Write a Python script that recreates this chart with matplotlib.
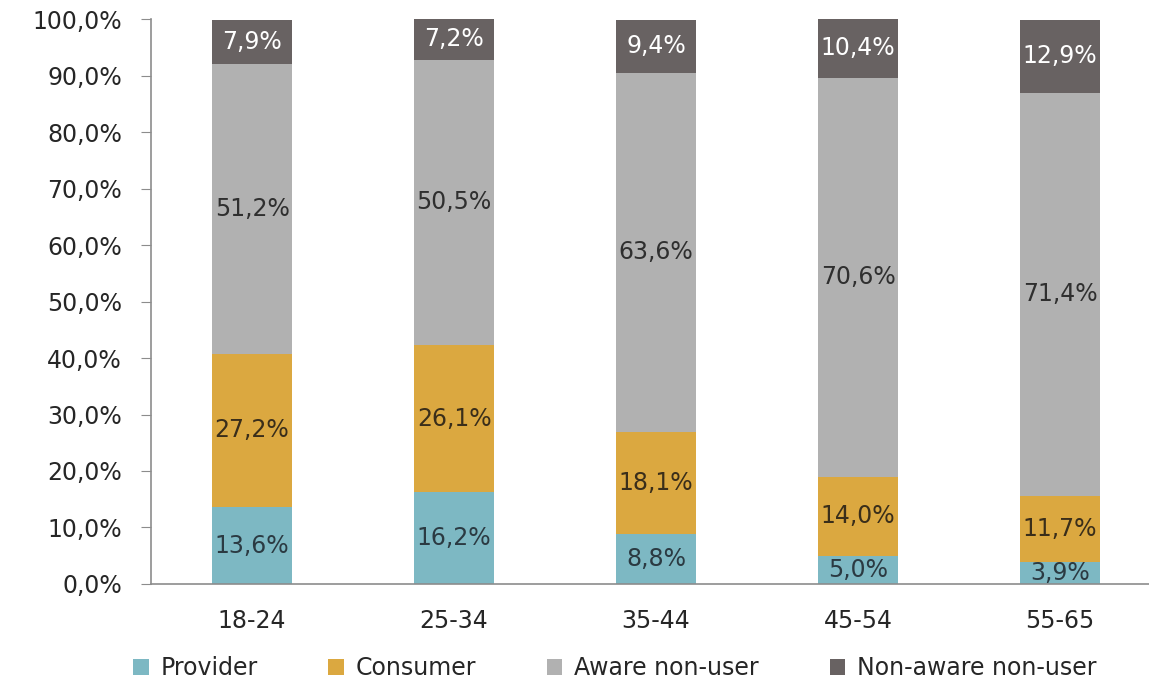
import matplotlib
matplotlib.use("Agg")
import matplotlib.pyplot as plt
import numpy as np

categories = ["18-24", "25-34", "35-44", "45-54", "55-65"]
provider = [13.6, 16.2, 8.8, 5.0, 3.9]
consumer = [27.2, 26.1, 18.1, 14.0, 11.7]
aware = [51.2, 50.5, 63.6, 70.6, 71.4]
nonaware = [7.9, 7.2, 9.4, 10.4, 12.9]
series_names = ["Provider", "Consumer", "Aware non-user", "Non-aware non-user"]
yticks = [0, 10, 20, 30, 40, 50, 60, 70, 80, 90, 100]

colors = ["#7DB8C3", "#DBA840", "#B1B1B1", "#686262"]
label_colors = ["#2b3a42", "#3a2e1a", "#2f2f2f", "#ffffff"]

def fmt(v):
    return f"{v:.1f}".replace(".", ",") + "%"

plt.rcParams['font.family'] = ['DejaVu Sans']
fig = plt.figure(figsize=(11.49, 6.83), dpi=100)
ax = fig.add_axes([0.1315, 0.145, 0.879, 0.827])

x = np.arange(len(categories))
bottom = np.zeros(len(categories))
handles = []
for vals, name, c, lc in zip([provider, consumer, aware, nonaware], series_names, colors, label_colors):
    vals = np.array(vals)
    b = ax.bar(x, vals, 0.4, bottom=bottom, color=c, label=name)
    handles.append(b)
    for xi, v, bo in zip(x, vals, bottom):
        ax.text(xi, bo + v / 2, fmt(v), ha="center", va="center", fontsize=17, color=lc)
    bottom = bottom + vals

ax.set_xlim(-0.5, 4.5)
ax.set_ylim(0, 100)
ax.set_yticks(yticks)
ax.set_yticklabels([fmt(t) for t in yticks], fontsize=17, color="#262626")
ax.set_xticks(x)
ax.set_xticklabels(categories, fontsize=17, color="#262626")
ax.tick_params(axis="x", length=0, pad=18)
ax.tick_params(axis="y", length=7, color="#8c8c8c", pad=14)
for s in ["top", "right"]:
    ax.spines[s].set_visible(False)
for s in ["left", "bottom"]:
    ax.spines[s].set_color("#8c8c8c")
    ax.spines[s].set_linewidth(1.2)
ax.spines["bottom"].set_bounds(-0.5, 4.5)

fig.legend(handles=handles, labels=series_names, loc="center", bbox_to_anchor=(0.535, 0.022),
           ncol=4, frameon=False, fontsize=17, handlelength=0.65, handleheight=0.65,
           handletextpad=0.5, columnspacing=3.0, labelcolor="#262626")

fig.savefig("out.png", dpi=100)
